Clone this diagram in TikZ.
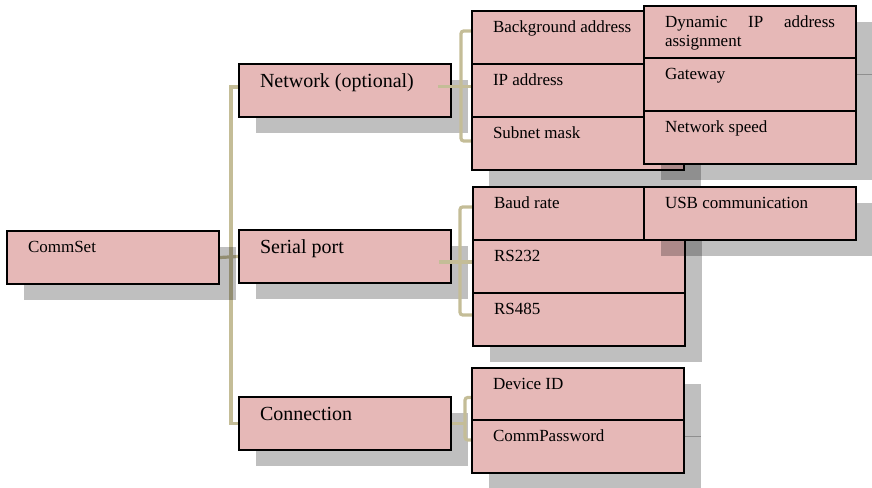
\documentclass[tikz,border=0pt]{standalone}
\usepackage{fontspec}
\setmainfont{Liberation Serif}
\usepackage{xcolor}
\usetikzlibrary{shadows,calc}
\definecolor{boxpink}{HTML}{E6B8B7}
\definecolor{linktan}{HTML}{C4BD97}
\pgfdeclarelayer{back}
\pgfdeclarelayer{front}
\pgfsetlayers{back,main,front}

\tikzset{
  box/.style={draw, line width=1.5pt, fill=boxpink, anchor=north west,
    inner xsep=15.75pt, inner ysep=0pt, text width=127.5pt, align=justify,
    font=\fontsize{12.75}{14.25}\selectfont, text height=16.5pt, text depth=23.25pt,
    drop shadow={shadow xshift=12.75pt, shadow yshift=-12pt, fill=black, opacity=0.25}},
  topbox/.style={box, font=\fontsize{15}{18}\selectfont, text height=18pt, text depth=21.75pt},
  conn/.style={draw=linktan, line width=2.4pt},
  bracket/.style={conn, rounded corners=2pt},
}

\begin{document}
\begin{tikzpicture}[x=0.75pt,y=0.75pt,yscale=-1,xscale=1]
\useasboundingbox (0,0) rectangle (872,488);

% Root
\node[box] (commset) at (6,230) {CommSet};

% First level
\node[topbox] (network) at (238,63) {Network (optional)};
\node[topbox] (serial) at (238,229) {Serial port};
\node[topbox] (connection) at (238,396) {Connection};

% Second level
\begin{pgfonlayer}{front}
\node[box] (bgaddr) at (471,10) {Background address};
\node[box] (ipaddr) at (471,63) {IP address};
\node[box] (subnet) at (471,116) {Subnet mask};
\node[box] (dynip) at (643,5) {Dynamic IP address\linebreak assignment};
\node[box] (gateway) at (643,57) {Gateway};
\node[box] (netspeed) at (643,110) {Network speed};
\node[box] (baud) at (472,186) {Baud rate};
\node[box] (rs232) at (472,239) {RS232};
\node[box] (rs485) at (472,292) {RS485};
\node[box] (usb) at (643,186) {USB communication};
\node[box] (devid) at (471,367) {Device ID};
\node[box] (commpw) at (471,419) {CommPassword};
\end{pgfonlayer}

% Trunk
\begin{pgfonlayer}{back}
\draw[conn] ([yshift=-2.6pt]network.west) -- ++(-7,0) |- (connection.west);
\draw[conn] (commset.east) -- (serial.west);
\end{pgfonlayer}

% Network branch
\draw[bracket] ([yshift=-4.9pt]bgaddr.west) -- ++(-10,0) |- ([yshift=-1.9pt]subnet.west);
\draw[conn] ([xshift=-10.5pt,yshift=-3pt]network.east) -- ([yshift=-3pt]ipaddr.west);

% Serial branch
\draw[bracket] ([yshift=-4.9pt]baud.west) -- ++(-12,0) |- ([yshift=-3.4pt]rs485.west);
\coordinate (serialjoin) at ([yshift=-3.4pt]rs232.west);
\draw[conn] ($(serial.east |- serialjoin)+(-13,0)$) -- (serialjoin);

% Connection branch
\draw[bracket] ([yshift=2.25pt]devid.west) -- ++(-6,0) coordinate (connjoin) |- ([yshift=-4.9pt]commpw.west);
\draw[conn] (connection.east) -- (connection.east -| connjoin);

\end{tikzpicture}
\end{document}
